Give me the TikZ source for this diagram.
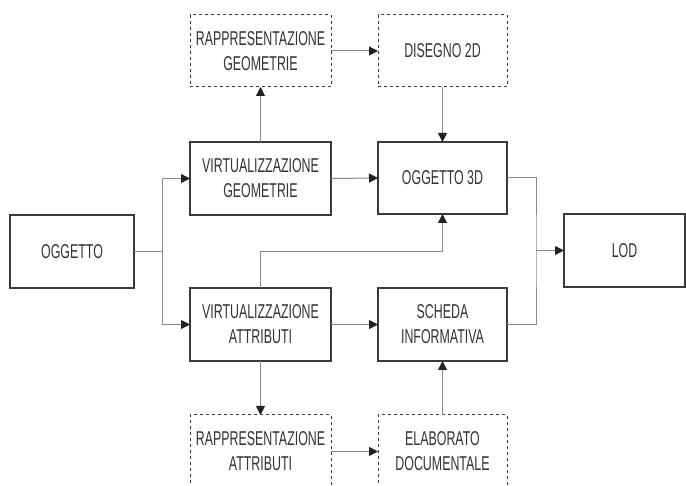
\documentclass[tikz,border=0pt]{standalone}
\usepackage{fontspec}
\setmainfont[FakeStretch=0.62]{Liberation Sans}
\usetikzlibrary{arrows.meta}
\definecolor{boxline}{HTML}{3A3A3A}
\definecolor{linkline}{HTML}{8A8A8A}
\definecolor{tipcol}{HTML}{222222}
\definecolor{txt}{HTML}{333333}
\tikzset{
  blk/.style={draw=boxline, line width=1.4pt, fill=white, inner sep=0pt, outer sep=0pt,
    align=center, text=txt, font=\fontsize{20}{25}\selectfont},
  solidbox/.style={blk},
  dashbox/.style={blk, line width=1pt, dash pattern=on 3pt off 3pt},
  link/.style={draw=linkline, line width=1pt},
  arr/.style={link, -{Triangle[length=9pt, width=9pt, color=tipcol, fill=tipcol]}}
}
\begin{document}
\begin{tikzpicture}[x=1pt, y=-1pt]
\useasboundingbox[fill=white] (0,0) rectangle (686,486);
% blocks
\node[solidbox, minimum width=124pt, minimum height=73pt] (ogg) at (72,251.5) {OGGETTO};
\node[solidbox, minimum width=141pt, minimum height=73pt] (vg) at (260.5,178.5) {VIRTUALIZZAZIONE\\GEOMETRIE};
\node[dashbox, minimum width=141pt, minimum height=72pt] (rg) at (260.5,51) {RAPPRESENTAZIONE\\GEOMETRIE};
\node[dashbox, minimum width=129pt, minimum height=72pt] (d2) at (442.5,51) {DISEGNO 2D};
\node[solidbox, minimum width=129pt, minimum height=72pt] (o3) at (442.5,178) {OGGETTO 3D};
\node[solidbox, minimum width=121pt, minimum height=73pt] (lod) at (624.5,250.5) {LOD};
\node[solidbox, minimum width=141pt, minimum height=73pt] (va) at (260.5,324.5) {VIRTUALIZZAZIONE\\ATTRIBUTI};
\node[solidbox, minimum width=129pt, minimum height=73pt] (sc) at (442.5,324.5) {SCHEDA\\INFORMATIVA};
\node[dashbox, minimum width=141pt, minimum height=73pt] (ra) at (260.5,451.5) {RAPPRESENTAZIONE\\ATTRIBUTI};
\node[dashbox, minimum width=129pt, minimum height=73pt] (el) at (442.5,451.5) {ELABORATO\\DOCUMENTALE};
% junction points
\coordinate (j1) at (162,251.5);
\coordinate (j2) at (536,250.5);
\coordinate (k) at (0,252);
% connectors
\draw[link] (ogg.east) -- (j1);
\draw[arr] (j1) |- (vg.west);
\draw[arr] (j1) |- (va.west);
\draw[arr] (vg.north) -- (rg.south);
\draw[arr] (rg.east) -- (d2.west);
\draw[arr] (d2.south) -- (o3.north);
\draw[arr] (vg.east) -- (o3.west);
\draw[arr] (va.north) -- (va.north |- k) -| (o3.south);
\draw[arr] (va.east) -- (sc.west);
\draw[arr] (va.south) -- (ra.north);
\draw[arr] (ra.east) -- (el.west);
\draw[arr] (el.north) -- (sc.south);
\draw[link] (o3.east) -| (j2) |- (sc.east);
\draw[arr] (j2) -- (lod.west);
\end{tikzpicture}
\end{document}
